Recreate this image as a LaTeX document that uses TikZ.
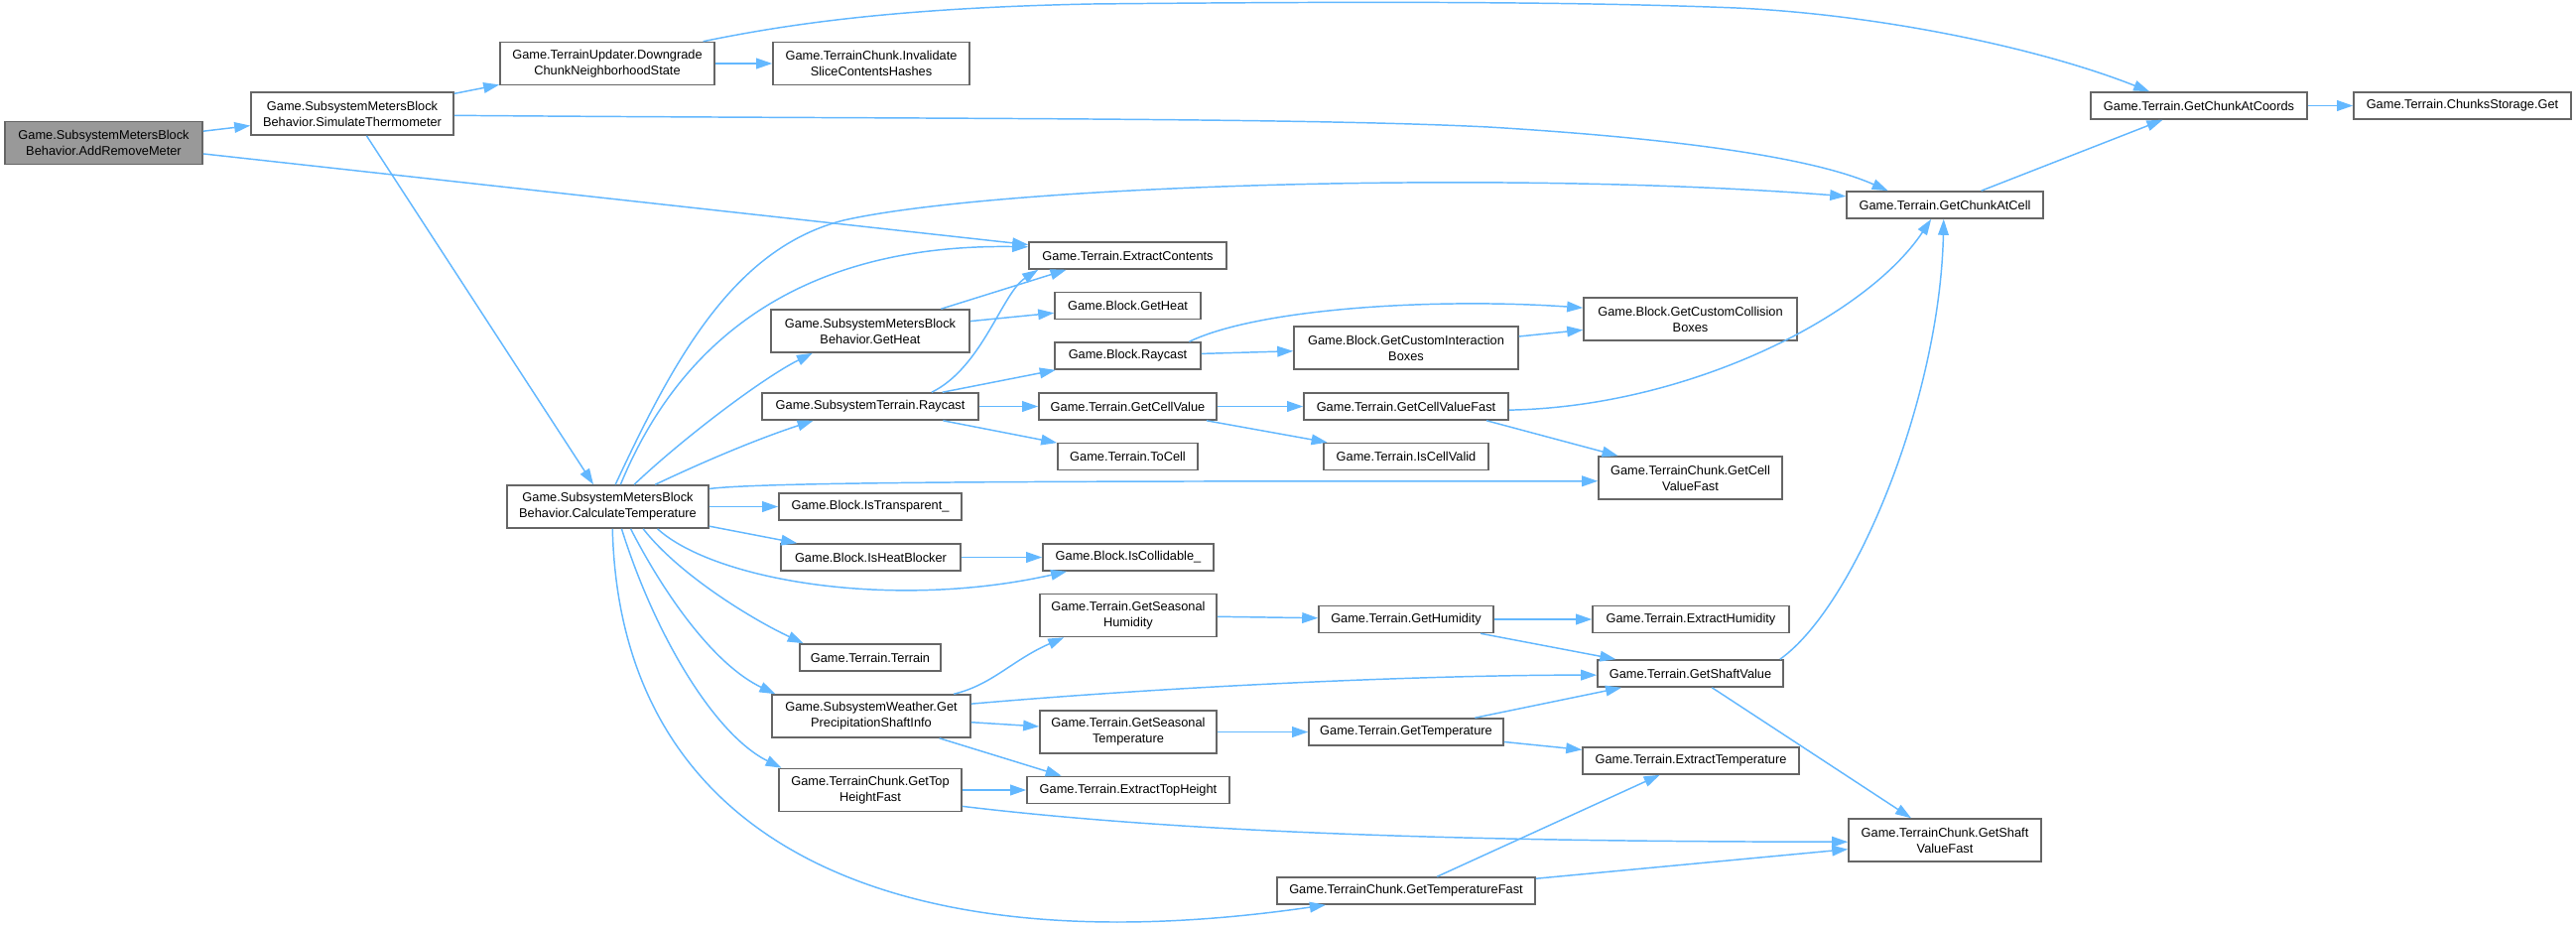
\documentclass[tikz,border=0pt]{standalone}
\usepackage{fontspec}
\setmainfont{Liberation Sans}
\usetikzlibrary{arrows.meta}

\definecolor{edgeblue}{HTML}{63B8FF}
\definecolor{boxgray}{HTML}{666666}
\definecolor{rootgray}{HTML}{999999}

\tikzset{
  box/.style={draw=boxgray,line width=1.2pt,fill=white,align=center,inner sep=0pt,
    minimum height=20.25pt,font=\fontsize{9.6}{12}\selectfont},
  tall/.style={minimum height=32.25pt},
  wd/.style={minimum width=#1*0.75pt},
  calls/.style={draw=edgeblue,line width=1.1pt,-{Triangle[length=12pt,width=8pt]}},
}

\begin{document}
\begin{tikzpicture}[x=0.75pt,y=-0.75pt]
                \useasboundingbox[fill=white] (0,0) rectangle (2596,933);

                % ノード
                \node[box,tall,wd=199,fill=rootgray] (arm) at (104.5,144) {Game.SubsystemMetersBlock\\Behavior.AddRemoveMeter};
                \node[box,tall,wd=204] (sim) at (355,114.5) {Game.SubsystemMetersBlock\\Behavior.SimulateThermometer};
                \node[box,tall,wd=216] (dcn) at (612,64) {Game.TerrainUpdater.Downgrade\\ChunkNeighborhoodState};
                \node[box,tall,wd=198] (isc) at (878,64) {Game.TerrainChunk.Invalidate\\SliceContentsHashes};
                \node[box,wd=218] (gcco) at (2216,106.5) {Game.Terrain.GetChunkAtCoords};
                \node[box,wd=219] (csg) at (2481.5,106.5) {Game.Terrain.ChunksStorage.Get};
                \node[box,wd=198] (gcac) at (1960,206.5) {Game.Terrain.GetChunkAtCell};
                \node[box,wd=199] (ect) at (1136.5,257.5) {Game.Terrain.ExtractContents};
                \node[box,tall,wd=203] (cal) at (612.5,510.5) {Game.SubsystemMetersBlock\\Behavior.CalculateTemperature};
                \node[box,tall,wd=200] (sgh) at (877,333.5) {Game.SubsystemMetersBlock\\Behavior.GetHeat};
                \node[box,wd=147] (bgh) at (1136.5,308) {Game.Block.GetHeat};
                \node[box,wd=147] (brc) at (1136.5,358.5) {Game.Block.Raycast};
                \node[box,tall,wd=226] (gcib) at (1417,350.5) {Game.Block.GetCustomInteraction\\Boxes};
                \node[box,tall,wd=215] (gccb) at (1703.5,321.5) {Game.Block.GetCustomCollision\\Boxes};
                \node[box,wd=218] (str) at (877,409.5) {Game.SubsystemTerrain.Raycast};
                \node[box,wd=179] (gcv) at (1136.5,409.5) {Game.Terrain.GetCellValue};
                \node[box,wd=206] (gcvf) at (1417,409.5) {Game.Terrain.GetCellValueFast};
                \node[box,wd=141] (toc) at (1136.5,460) {Game.Terrain.ToCell};
                \node[box,wd=166] (icv) at (1417,460) {Game.Terrain.IsCellValid};
                \node[box,wd=184] (itr) at (877,510.5) {Game.Block.IsTransparent\_};
                \node[box,wd=181] (ihb) at (877.5,561.5) {Game.Block.IsHeatBlocker};
                \node[box,wd=172] (icl) at (1137,561.5) {Game.Block.IsCollidable\_};
                \node[box,tall,wd=185] (tcv) at (1703.5,481.5) {Game.TerrainChunk.GetCell\\ValueFast};
                \node[box,tall,wd=178] (gsh) at (1137,620) {Game.Terrain.GetSeasonal\\Humidity};
                \node[box,wd=142] (ttt) at (877,662.5) {Game.Terrain.Terrain};
                \node[box,tall,wd=200] (gps) at (878,721.5) {Game.SubsystemWeather.Get\\PrecipitationShaftInfo};
                \node[box,tall,wd=178] (gst) at (1137,737.5) {Game.Terrain.GetSeasonal\\Temperature};
                \node[box,tall,wd=184] (gth) at (877,796) {Game.TerrainChunk.GetTop\\HeightFast};
                \node[box,wd=204] (eth) at (1137,796) {Game.Terrain.ExtractTopHeight};
                \node[box,wd=176] (ghu) at (1417,624) {Game.Terrain.GetHumidity};
                \node[box,wd=198] (ehu) at (1704,624) {Game.Terrain.ExtractHumidity};
                \node[box,wd=187] (gsv) at (1703.5,678.5) {Game.Terrain.GetShaftValue};
                \node[box,wd=196] (gte) at (1417,737.5) {Game.Terrain.GetTemperature};
                \node[box,wd=218] (ete) at (1704,766.5) {Game.Terrain.ExtractTemperature};
                \node[box,tall,wd=194] (gsf) at (1960,846.5) {Game.TerrainChunk.GetShaft\\ValueFast};
                \node[box,wd=260] (gtf) at (1417,897.5) {Game.TerrainChunk.GetTemperatureFast};

                % 上の方の矢印
                \draw[calls] (arm) -- (sim);
                \draw[calls] (arm) -- (ect);
                \draw[calls] (sim) -- (dcn);
                \draw[calls] (sim) -- (cal);
                \draw[calls] (sim.-1) .. controls (900,120) and (1300,118) .. (1500,128) .. controls (1700,140) and (1830,160) .. (gcac.166);
                \draw[calls] (dcn) -- (isc);
                \draw[calls] (dcn.13) .. controls (790,25) and (900,8) .. (1100,4) .. controls (1400,1) and (1600,2) .. (1750,8) .. controls (1900,15) and (2060,50) .. (gcco.164);
                \draw[calls] (gcco) -- (csg);
                \draw[calls] (gcac) -- (gcco);

                % CalculateTemperatureから出る矢印
                \draw[calls] (cal.71) .. controls (680,360) and (740,250) .. (850,222) .. controls (1000,188) and (1500,170) .. (gcac.175);
                \draw[calls] (cal.60) .. controls (670,380) and (770,245) .. (ect.175);
                \draw[calls] (cal.40) .. controls (690,440) and (770,380) .. (sgh.201);
                \draw[calls] (cal.25) .. controls (720,460) and (770,440) .. (str.194);
                \draw[calls] (cal.10) .. controls (780,484) and (1200,485) .. (tcv.182);
                \draw[calls] (cal) -- (itr);
                \draw[calls] (cal) -- (ihb);
                \draw[calls] (cal.-24) .. controls (720,585) and (900,615) .. (icl.193);
                \draw[calls] (cal.-32) .. controls (685,580) and (760,625) .. (ttt.168);
                \draw[calls] (cal.-44) .. controls (670,600) and (720,670) .. (gps.167);
                \draw[calls] (cal.-58) .. controls (660,640) and (720,740) .. (gth.166);
                \draw[calls] (cal.-78) .. controls (625,850) and (900,975) .. (gtf.190);

                % 中段
                \draw[calls] (sgh) -- (ect.193);
                \draw[calls] (sgh) -- (bgh);
                \draw[calls] (str.13) .. controls (990,370) and (1010,295) .. (ect.189);
                \draw[calls] (str) -- (brc);
                \draw[calls] (str) -- (gcv);
                \draw[calls] (str) -- (toc);
                \draw[calls] (brc) -- (gcib);
                \draw[calls] (brc.13) .. controls (1270,310) and (1450,300) .. (gccb.174);
                \draw[calls] (gcib) -- (gccb);
                \draw[calls] (gcv) -- (gcvf);
                \draw[calls] (gcv) -- (icv);
                \draw[calls] (gcvf.-2) .. controls (1700,410) and (1880,320) .. (gcac.-134);
                \draw[calls] (gcvf.-10) -- (tcv.163);
                \draw[calls] (ihb) -- (icl);

                % 下段
                \draw[calls] (gps.15) .. controls (1000,690) and (1020,665) .. (gsh.199);
                \draw[calls] (gps.7) .. controls (1200,690) and (1450,680) .. (gsv.181);
                \draw[calls] (gps) -- (gst);
                \draw[calls] (gps.-18) -- (eth.168);
                \draw[calls] (gsh) -- (ghu);
                \draw[calls] (ghu) -- (ehu);
                \draw[calls] (ghu) -- (gsv);
                \draw[calls] (gst) -- (gte);
                \draw[calls] (gte) -- (gsv);
                \draw[calls] (gte) -- (ete);
                \draw[calls] (gsv.9) .. controls (1870,610) and (1955,400) .. (gcac.-95);
                \draw[calls] (gsv) -- (gsf);
                \draw[calls] (gth) -- (eth);
                \draw[calls] (gth.-10) .. controls (1200,840) and (1500,848) .. (gsf.181);
                \draw[calls] (gtf) -- (ete);
                \draw[calls] (gtf) -- (gsf);

            \end{tikzpicture}
\end{document}
